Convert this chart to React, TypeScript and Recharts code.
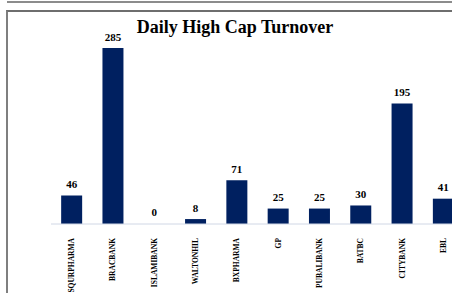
import React from 'react';
import { BarChart, Bar, XAxis, YAxis, LabelList } from 'recharts';

const categories = ['SQURPHARMA', 'BRACBANK', 'ISLAMIBANK', 'WALTONHIL', 'BXPHARMA', 'GP', 'PUBALIBANK', 'BATBC', 'CITYBANK', 'EBL'];
const turnover = [46, 285, 0, 8, 71, 25, 25, 30, 195, 41];

const data = categories.map((name, i) => ({ name, value: turnover[i] }));

const SERIF = "'Times New Roman', 'Liberation Serif', 'DejaVu Serif', serif";

const Tick = (props: any) => {
  const { x, y, payload } = props;
  return (
    <text
      x={x}
      y={y + 6}
      transform={`rotate(-90 ${x} ${y + 6})`}
      textAnchor="end"
      dy="0.33em"
      fontFamily={SERIF}
      fontWeight="bold"
      fontSize={7.5}
      fill="#000"
    >
      {payload.value}
    </text>
  );
};

export default function App() {
  return (
    <div style={{ position: 'fixed', left: 0, top: 0, width: 452, height: 293, overflow: 'hidden', background: '#fff' }}>
      <div style={{ position: 'absolute', left: 7, top: 0, width: 460, height: 1, borderBottom: '2px solid #8c8c8c' }} />
      <div style={{ position: 'absolute', left: 6, top: 10, width: 460, height: 300, borderTop: '2px solid #6e6e6e', borderLeft: '2px solid #7f7f7f' }} />
      <div style={{ position: 'absolute', left: 0, top: 16, width: 470, textAlign: 'center', fontFamily: SERIF, fontWeight: 'bold', fontSize: 18, lineHeight: '22px', color: '#000' }}>
        Daily High Cap Turnover
      </div>
      <div style={{ position: 'absolute', left: 0, top: 0 }}>
        <BarChart width={470} height={293} data={data} margin={{ top: 38.75, right: 6, bottom: 9, left: 51 }} barCategoryGap="24.6%">
          <XAxis dataKey="name" interval={0} tick={<Tick />} tickLine={false} axisLine={{ stroke: '#d0d7e5', strokeWidth: 1 }} height={60} />
          <YAxis hide domain={[0, 300]} />
          <Bar dataKey="value" fill="#002060" minPointSize={0.01} isAnimationActive={false}>
            <LabelList dataKey="value" position="top" offset={7.5} fontFamily={SERIF} fontWeight="bold" fontSize={11} fill="#000" />
          </Bar>
        </BarChart>
      </div>
    </div>
  );
}
